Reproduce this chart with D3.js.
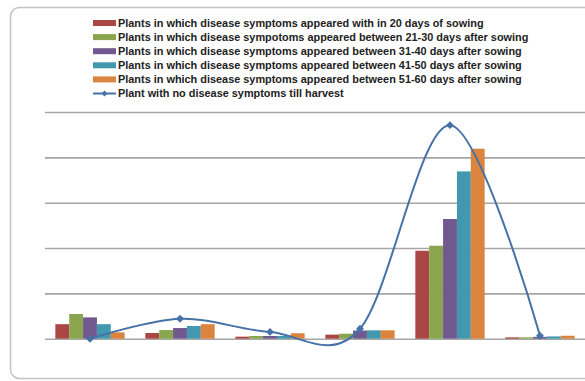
<!DOCTYPE html>
<html><head><meta charset="utf-8">
<script src="https://cdn.jsdelivr.net/npm/d3@7"></script>
<style>html,body{margin:0;padding:0;background:#fff;overflow:hidden}</style>
</head><body><svg id="c" width="585" height="381"></svg>
<script>
const categories = ["G1","G2","G3","G4","G5","G6"];
const seriesNames = [
  "Plants in which disease symptoms appeared with in 20 days of sowing",
  "Plants in which disease sympotoms appeared between 21-30 days after sowing",
  "Plants in which disease symptoms appeared between 31-40 days after sowing",
  "Plants in which disease symptoms appeared between 41-50 days after sowing",
  "Plants in which disease symptoms appeared between 51-60 days after sowing"
];
const lineName = "Plant with no disease symptoms till harvest";
const s1 = [3.2, 1.25, 0.45, 0.9, 19.4, 0.3];
const s2 = [5.45, 1.9, 0.6, 1.1, 20.5, 0.3];
const s3 = [4.7, 2.35, 0.6, 1.8, 26.4, 0.4];
const s4 = [3.2, 2.8, 0.6, 1.85, 36.9, 0.5];
const s5 = [1.4, 3.2, 1.2, 1.85, 41.9, 0.65];
const lineValues = [0, 4.4, 1.5, 2.2, 47.1, 0.65];
const yTicks = [0, 10, 20, 30, 40, 50];
const colors = ["#aa4643","#89a54e","#71588f","#4198af","#db843d"];
const lineColor = "#4572a7";

const barSeries = [s1, s2, s3, s4, s5];
const svg = d3.select("#c");

// outer chart border
svg.append("rect").attr("x",10.5).attr("y",7.5).attr("width",620).attr("height",371)
  .attr("rx",9).attr("fill","#fff").attr("stroke","#c4c4c4").attr("stroke-width",1.5);

const x0 = d3.scaleBand().domain(categories).range([45,585]).paddingInner(0.23).paddingOuter(0.115);
const x1 = d3.scaleBand().domain(d3.range(barSeries.length)).range([0,x0.bandwidth()]);
const y = d3.scaleLinear().domain([0,50]).range([338.7,112]);

// gridlines
const yAxis = d3.axisLeft(y).tickValues(yTicks).tickSize(-540).tickFormat("");
const gy = svg.append("g").attr("transform","translate(45,0)").call(yAxis);
gy.select(".domain").remove();
gy.selectAll(".tick line").attr("stroke","#a6a6a6").attr("stroke-width",1.6);

// bars
const gBars = svg.append("g");
barSeries.forEach((vals,si)=>{
  gBars.selectAll(null).data(vals).enter().append("rect")
    .attr("x",(d,i)=>x0(categories[i])+x1(si))
    .attr("y",d=>y(d))
    .attr("width",x1.bandwidth())
    .attr("height",d=>y(0)-y(d))
    .attr("fill",colors[si]);
});

// line
const pts = lineValues.map((v,i)=>[x0(categories[i])+x0.bandwidth()/2, y(v)]);
svg.append("path").datum(pts)
  .attr("d",d3.line().curve(d3.curveCardinal.tension(0)))
  .attr("fill","none").attr("stroke",lineColor).attr("stroke-width",2);
const sym = d3.symbol().type(d3.symbolDiamond2).size(40);
svg.selectAll(null).data(pts).enter().append("path")
  .attr("transform",d=>`translate(${d[0]},${d[1]})`)
  .attr("d",sym).attr("fill",lineColor);

// legend
const lg = svg.append("g").attr("font-family","'Liberation Sans', Arial, sans-serif")
  .attr("font-size","10.9px").attr("font-weight","bold").attr("fill","#222");
const rowY = i => 23 + i*14.1;
seriesNames.forEach((n,i)=>{
  lg.append("rect").attr("x",93).attr("y",rowY(i)-3).attr("width",23).attr("height",6).attr("fill",colors[i]);
  lg.append("text").attr("x",118).attr("y",rowY(i)+3.8).text(n);
});
lg.append("line").attr("x1",93).attr("x2",116).attr("y1",rowY(5)).attr("y2",rowY(5))
  .attr("stroke",lineColor).attr("stroke-width",2);
lg.append("path").attr("transform",`translate(104.5,${rowY(5)})`).attr("d",d3.symbol().type(d3.symbolDiamond2).size(22)).attr("fill",lineColor);
lg.append("text").attr("x",118).attr("y",rowY(5)+3.8).text(lineName);
</script></body></html>
